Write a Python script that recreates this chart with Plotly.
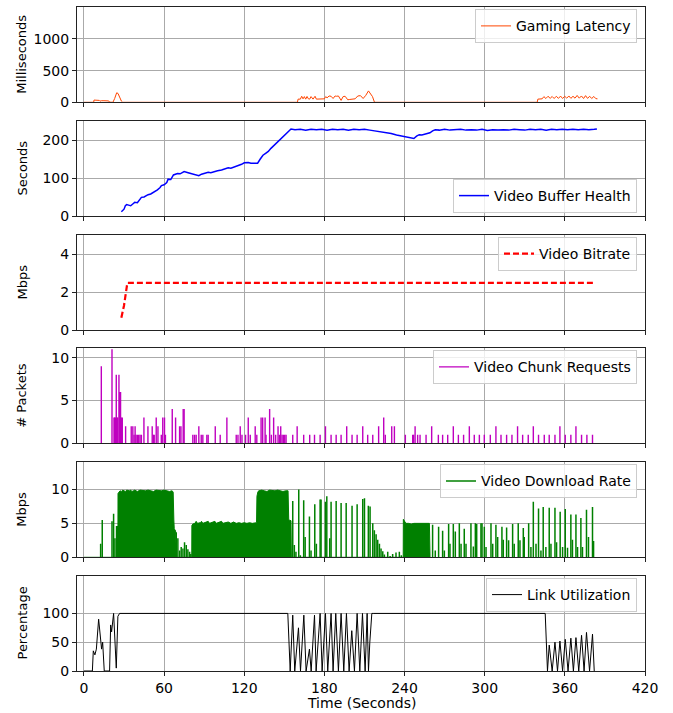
import plotly.graph_objects as go

# ---------------- DATA ----------------
# Gaming latency (ms)
lat_t = [0, 7.3, 7.5, 9, 11.5, 12, 13, 15, 18.5, 19.2, 21.7, 23, 24.5, 25.5, 26.7, 28, 29,
         159.8, 160.3, 162, 163, 164, 165, 166, 167, 168, 169, 170, 171.5, 173, 174, 176, 178,
         180, 181, 182, 183.5, 185, 186.5, 188, 189, 190.5, 192.5, 194, 195.5, 197.5, 199, 201,
         203, 205, 207, 209, 211, 213, 214.5, 216, 217.5,
         339.3, 339.8, 343, 344.3, 345.8, 347.4, 349, 350.5, 352, 353.6, 355.2, 356.8, 358.3,
         359.9, 361.4, 363.0, 364.5, 366.1, 367.6, 369.2, 370.8, 372.4, 374, 375.5, 377,
         378.6, 380.1, 381.7, 383.2, 384.4]
lat_v = [0, 0, 35, 37, 30, 18, 25, 25, 22, 2, 0, 60, 150, 140, 80, 20, 0,
         0, 50, 50, 95, 55, 90, 50, 92, 55, 50, 90, 50, 95, 50, 50, 52,
         55, 90, 70, 100, 95, 60, 100, 95, 100, 30, 90, 95, 40, 45, 50,
         55, 100, 105, 60, 110, 180, 140, 90, 0,
         0, 50, 55, 90, 60, 95, 62, 92, 60, 95, 62, 98, 60,
         95, 65, 100, 62, 95, 65, 108, 65, 100, 60, 105, 62,
         95, 60, 92, 58, 55]

# Video buffer health (s)
buf_t = [28, 30, 31, 32, 34, 35, 37, 38, 40, 42, 43, 45, 47, 48, 50, 52, 53, 55, 57, 58, 60,
         62, 63, 65, 67, 68, 70, 72, 75, 78, 80, 83, 86, 88, 90, 93, 95, 98, 100, 103, 105,
         108, 110, 113, 116, 118, 120, 123, 125, 128, 130, 132, 134, 136, 138, 140, 142, 144,
         146, 148, 150, 152, 154, 155, 158, 162, 166, 170, 174, 178, 182, 186, 190, 194, 198,
         202, 206, 210, 214, 218, 222, 226, 230, 234, 238, 242, 245, 247, 249, 251, 253, 256,
         259, 261, 263, 266, 270, 274, 278, 282, 286, 290, 294, 298, 302, 306, 310, 314, 318,
         322, 326, 330, 334, 338, 342, 346, 350, 354, 358, 362, 366, 370, 374, 378, 382, 384]
buf_v = [11, 18, 27, 30, 28, 27, 33, 36, 35, 45, 49, 50, 55, 56, 58, 62, 65, 69, 75, 80, 82,
         88, 97, 96, 108, 110, 112, 111, 117, 114, 112, 109, 106, 110, 112, 115, 114, 118, 119,
         121, 124, 127, 126, 129, 132, 136, 140, 141, 139, 140, 139, 150, 160, 165, 170, 178,
         185, 192, 199, 205, 212, 220, 228, 229, 227, 228, 226, 228, 227, 228, 226, 228, 227,
         228, 226, 228, 227, 228, 226, 224, 222, 220, 217, 213, 210, 207, 206, 204, 210, 214,
         213, 216, 219, 224, 227, 226, 228, 226, 227, 228, 226, 227, 226, 228, 225, 227, 226,
         227, 226, 228, 227, 226, 228, 227, 228, 226, 228, 227, 228, 227, 228, 227, 228, 227,
         228, 229]

# Video bitrate (Mbps)
rate_t = [28, 30, 32.5, 383]
rate_v = [0.65, 1.3, 2.5, 2.5]

# Video chunk requests (# packets)
chunk_t = [13, 21, 22.5, 23, 23.5, 24.2, 24.7, 25.3, 26.2, 26.8, 27.4, 28, 28.7, 31.2, 35.4,
           36.6, 37.5, 38.3, 39, 40, 41, 42, 43, 44.9, 47.9, 51.1, 52, 52.6, 54.1, 55.4, 57.9,
           59, 60.3, 61, 66.1, 68.6, 71.6, 72.6, 74.3, 75, 81.5, 82.8, 84, 86, 87.8, 89, 92,
           93, 98.3, 102, 107, 114, 115.3, 117, 118.3, 121, 123, 124.5, 128.2, 129.4, 132.6,
           133.8, 135.6, 136.3, 139, 140.3, 142, 143.5, 145.3, 146.3, 147.3, 148.3, 149.3,
           150.3, 151.3, 156.3, 159.6, 164.5, 169, 172.6, 176.8, 180.8, 185, 188.8, 192.5,
           196.7, 200.7, 204.5, 208.7, 212.4, 216.2, 220.6, 224.4, 225.6, 230.4, 232.4, 240.6,
           246.1, 246.8, 247.9, 249.8, 251.6, 256.1, 260.3, 265.3, 268.5, 272.3, 276.5, 280.3,
           284.2, 288.5, 292.2, 296, 299.7, 304.2, 308.4, 312.2, 316.4, 320.4, 324.6, 328.4,
           332.6, 336.4, 340.3, 344.6, 348.3, 352.6, 356.3, 360.3, 364.5, 368.3, 372.5, 376.5,
           380.7]
chunk_v = [9, 11, 3, 3, 3, 8, 3, 3, 8, 6, 6, 3, 3, 2, 2,
           2, 1, 2, 1, 1, 1, 1, 1, 3, 2, 2, 1, 1, 3, 2, 1,
           3, 3, 1, 4, 3, 2, 2, 4, 4, 1, 1, 1, 2, 1, 1, 1,
           1, 2, 1, 3, 1, 1, 2, 1, 1, 3, 1, 2, 1, 3,
           3, 3, 1, 4, 1, 3, 1, 2, 1, 2, 1, 1,
           1, 1, 1, 2, 1, 1, 1, 1, 2, 1, 1, 1,
           2, 1, 1, 2, 1, 1, 2, 3, 1, 2, 2, 1,
           1, 1, 2, 1, 1, 1, 2, 1, 1, 1, 2, 1,
           1, 2, 1, 1, 1, 1, 2, 1, 1, 1, 2, 1,
           1, 2, 1, 1, 1, 1, 2, 1, 1, 2, 1, 1,
           1]

# Video download rate (Mbps): sustained download periods (profile)
dl_block_t = [0, 12, 25.4, 25.5, 26, 27, 28, 29, 30, 31, 32, 33, 34, 35, 36, 37, 38, 39, 40, 42,
              44, 46, 48, 50, 52, 54, 56, 58, 60, 62, 64, 66, 66.8, 67.3, 67.6, 68.6, 69.2,
              80.7, 80.8, 81.5, 83, 84, 85, 87, 88, 89, 91, 93, 94, 96, 98, 99, 101, 103, 104,
              106, 108, 110, 112, 114, 116, 118, 120, 122, 124, 126, 128, 129.2, 129.5, 130.3,
              131, 133, 135, 137, 139, 141, 143, 145, 147, 149, 151, 152.8, 153.3, 155, 155.3,
              239, 239.1, 240, 241, 243, 245, 247, 249, 251, 253, 255, 257, 258.6, 259.1]
dl_block_v = [0, 0, 0, 9.4, 9.6, 9.8, 9.7, 9.9, 9.8, 9.7, 9.9, 9.8, 9.8, 9.9, 9.7, 9.8, 9.9, 9.8,
              9.7, 9.9, 9.8, 9.8, 9.9, 9.8, 9.7, 9.9, 9.8, 9.8, 9.9, 9.8, 9.7, 9.8, 9.6, 5.5,
              4.2, 3.9, 0,
              0, 4.7, 4.9, 5.0, 5.3, 5.0, 5.1, 5.3, 5.0, 5.1, 5.3, 5.0, 5.1, 5.3, 5.0, 5.2, 5.3,
              5.0, 5.1, 5.2, 5.0, 5.2, 5.0, 5.1, 5.0, 5.1, 5.0, 5.1, 5.0, 5.0, 5.1, 9.0, 9.7,
              9.8, 9.9, 9.8, 9.7, 9.9, 9.8, 9.8, 9.9, 9.8, 9.7, 9.8, 9.8, 5.5, 5.4, 0,
              0, 5.6, 5.2, 5.0, 5.0, 4.9, 5.0, 5.0, 4.9, 5.0, 5.0, 4.9, 5.0, 0]
# Video download rate: individual bursts
dl_spike_t = [12.5, 13.7, 21, 22.2, 23.2, 24.4, 25, 69.1, 70.3, 71.6, 72.8, 74.1, 75.3, 76.6,
              77.8, 79.1, 80, 156.3, 157.5, 158.7, 160.8, 162, 164.5, 165.6, 168.8, 170,
              172.8, 174, 176.8, 177.5, 180.8, 181.8, 184, 185, 188.8, 192.5, 196.3, 200.7,
              204.5, 208.7, 210, 212.9, 214.2, 216.2, 217.4, 218.7, 219.9, 221.2, 222.4,
              223.7, 224.9, 227.4, 229.2, 231.1, 233.6, 236.1, 237.6, 261.0, 263.0, 265.5,
              268.5, 269.8, 273.0, 274.0, 276.5, 278.0, 281.0, 282.3, 284.7, 286.0, 289.7,
              291.5, 293.0, 294.0, 297.2, 298.0, 299.7, 301.0, 304.7, 306.0, 308.4, 309.7,
              312.9, 313.9, 316.4, 317.9, 320.9, 322.1, 325.1, 326.4, 328.9, 329.6, 332.9,
              334.6, 336.4, 338.4, 340.3, 342.1, 343.8, 345.8, 348.3, 349.6, 352.6, 353.8,
              356.5, 358.3, 360.3, 362.0, 364.5, 365.7, 368.3, 369.5, 372.0, 373.2, 376.2,
              377.7, 380.7, 381.5]
dl_spike_v = [2.0, 5.5, 5.3, 6.4, 2.8, 4.6, 4.6, 3.7, 2.8, 1.0, 1.5, 1.3, 2.2, 1.8,
              1.2, 0.8, 0.5, 8.3, 1.8, 0.8, 10.0, 0.3, 8.4, 3.0, 6.0, 1.0,
              7.8, 2.0, 8.5, 8.5, 8.2, 9.0, 2.8, 8.2, 8.3, 8.0, 8.0, 7.6,
              7.8, 8.6, 8.7, 7.6, 7.5, 5.0, 4.0, 3.4, 2.6, 2.0, 1.3,
              0.9, 0.4, 0.8, 0.2, 0.5, 0.7, 0.8, 0.3, 4.8, 1.0, 4.5,
              3.9, 1.0, 4.9, 2.0, 4.9, 3.8, 5.0, 2.0, 4.2, 2.0, 5.0,
              1.6, 5.0, 4.9, 5.0, 5.0, 4.5, 1.5, 5.0, 2.0, 4.8, 3.0,
              4.5, 2.6, 4.4, 2.5, 4.9, 2.0, 5.0, 2.5, 4.3, 3.0, 5.0,
              1.5, 8.2, 2.0, 7.2, 1.0, 7.4, 1.5, 7.3, 2.0, 7.3, 2.2,
              6.7, 1.5, 7.1, 1.4, 6.3, 2.6, 6.3, 1.5, 5.8, 1.5, 7.0,
              3.0, 7.4, 2.4]

# Link utilization (%)
link_t = [0, 6.3, 7.0, 8.2, 9.3, 11, 13.2, 14, 15.2, 19.2, 20, 20.7, 22.2, 24.2, 25.4, 26.7,
          152.6, 154.4, 156.3, 157.8, 160.6, 162.1, 164.6, 166.3, 168.8, 170.1, 172.6, 173.8,
          176.8, 178.3, 180.8, 182.5, 185, 186.5, 188.5, 190.5, 192.5, 194.5, 196.5, 198.5,
          200.5, 202.5, 204.5, 206.5, 208.5, 210.5, 212, 213, 214, 215.5, 216.5,
          345.3, 347, 348.3, 350.5, 352.6, 354.5, 356.3, 358.3, 360.3, 362.4, 364.5, 366.4,
          368.3, 370.4, 372.5, 374.4, 376.2, 378.5, 380.7, 382]
link_v = [0, 0, 35, 28, 38, 90, 38, 50, 0, 0, 80, 68, 100, 5, 95, 100,
          100, 0, 97, 0, 75, 0, 97, 0, 38, 0, 97, 0,
          100, 0, 100, 0, 100, 0, 100, 0, 100, 0, 100, 0,
          70, 0, 100, 0, 100, 0, 100, 0, 50, 100, 100,
          100, 0, 45, 0, 50, 0, 52, 0, 55, 0, 57, 0,
          58, 0, 62, 0, 67, 0, 64, 0]

y_titles = ["Milliseconds", "Seconds", "Mbps", "# Packets", "Mbps", "Percentage"]
y_ranges = [[0, 1500], [0, 250], [0, 5.03], [0, 11.1], [0, 14], [0, 165]]
y_ticks = [[0, 500, 1000], [0, 100, 200], [0, 2, 4], [0, 5, 10], [0, 5, 10], [0, 50, 100]]
x_ticks = [0, 60, 120, 180, 240, 300, 360, 420]


def spikes(ts, vs):
    xs, ys = [], []
    for t, v in zip(ts, vs):
        xs += [t, t, None]
        ys += [0, v, None]
    return xs, ys


# ---------------- FIGURE ----------------
W, H = 673, 713
ML, MR, MT, MB = 77, 28, 7, 42
plot_h = H - MT - MB
panel_tops = [7.3, 121, 235, 348.3, 462.3, 576]
panel_h = 95


def py(px):
    return (H - MB - px) / plot_h


FONT = "DejaVu Sans"
fig = go.Figure()

fig.add_trace(go.Scatter(x=lat_t, y=lat_v, mode="lines", name="Gaming Latency",
                         line=dict(color="#FF4500", width=1), xaxis="x", yaxis="y",
                         legend="legend"))
fig.add_trace(go.Scatter(x=buf_t, y=buf_v, mode="lines", name="Video Buffer Health",
                         line=dict(color="#0000FF", width=1.5), xaxis="x2", yaxis="y2",
                         legend="legend2"))
fig.add_trace(go.Scatter(x=rate_t, y=rate_v, mode="lines", name="Video Bitrate",
                         line=dict(color="#FF0000", width=2.2, dash="6px,3px"),
                         xaxis="x3", yaxis="y3", legend="legend3"))
cx, cy = spikes(chunk_t, chunk_v)
fig.add_trace(go.Scatter(x=cx, y=cy, mode="lines", name="Video Chunk Requests",
                         line=dict(color="#BF00BF", width=1.4), xaxis="x4", yaxis="y4",
                         legend="legend4"))
fig.add_trace(go.Scatter(x=dl_block_t, y=dl_block_v, mode="lines", fill="tozeroy",
                         fillcolor="#008000", line=dict(color="#008000", width=1),
                         showlegend=False, xaxis="x5", yaxis="y5"))
gx, gy = spikes(dl_spike_t, dl_spike_v)
fig.add_trace(go.Scatter(x=gx, y=gy, mode="lines", name="Video Download Rate",
                         line=dict(color="#008000", width=1.5), xaxis="x5", yaxis="y5",
                         legend="legend5"))
fig.add_trace(go.Scatter(x=link_t, y=link_v, mode="lines", name="Link Utilization",
                         line=dict(color="#000000", width=1), xaxis="x6", yaxis="y6",
                         legend="legend6"))

layout = dict(
    width=W, height=H, margin=dict(l=ML, r=MR, t=MT, b=MB),
    paper_bgcolor="white", plot_bgcolor="white",
    font=dict(family=FONT, size=14, color="black"),
    showlegend=True, hovermode=False,
)

axis_common = dict(showline=True, linecolor="#222222", linewidth=1, mirror=True,
                   ticks="outside", ticklen=4, tickcolor="#222222", showgrid=True,
                   gridcolor="#aaaaaa", gridwidth=1, zeroline=False, automargin=False,
                   tickfont=dict(family=FONT, size=14, color="black"))

annotations = []
for i in range(6):
    k = "" if i == 0 else str(i + 1)
    top = panel_tops[i]
    bot = top + panel_h
    dom = [py(bot), py(top)]
    layout["xaxis" + k] = dict(axis_common, domain=[0, 1], anchor="y" + k,
                               range=[-5.2, 420], tickvals=x_ticks,
                               showticklabels=(i == 5),
                               **({} if i == 0 else {"matches": "x"}))
    layout["yaxis" + k] = dict(axis_common, domain=dom, anchor="x" + k,
                               range=y_ranges[i], tickvals=y_ticks[i])
    annotations.append(dict(text=y_titles[i], textangle=-90, xref="paper", yref="paper",
                            x=(22 - ML) / (W - ML - MR), y=(dom[0] + dom[1]) / 2,
                            xanchor="center", yanchor="middle", showarrow=False,
                            font=dict(family=FONT, size=13, color="black")))
    leg = dict(x=(637 - ML) / (W - ML - MR), xanchor="right", xref="paper", yref="paper",
               bgcolor="rgba(255,255,255,0.8)", bordercolor="#cccccc", borderwidth=1,
               font=dict(family=FONT, size=14, color="black"), itemwidth=30)
    if i == 1:
        leg.update(y=py(bot - 3), yanchor="bottom")
    else:
        leg.update(y=py(top + 2), yanchor="top")
    layout["legend" + k] = leg

annotations.append(dict(text="Time (Seconds)", xref="paper", yref="paper",
                        x=0.5, y=py(703), xanchor="center", yanchor="middle",
                        showarrow=False, font=dict(family=FONT, size=14, color="black")))
layout["annotations"] = annotations

fig.update_layout(**layout)
fig.write_html("out.html", config={"displayModeBar": False, "staticPlot": True},
               post_script="document.body.style.margin='0';document.body.style.padding='0';")
